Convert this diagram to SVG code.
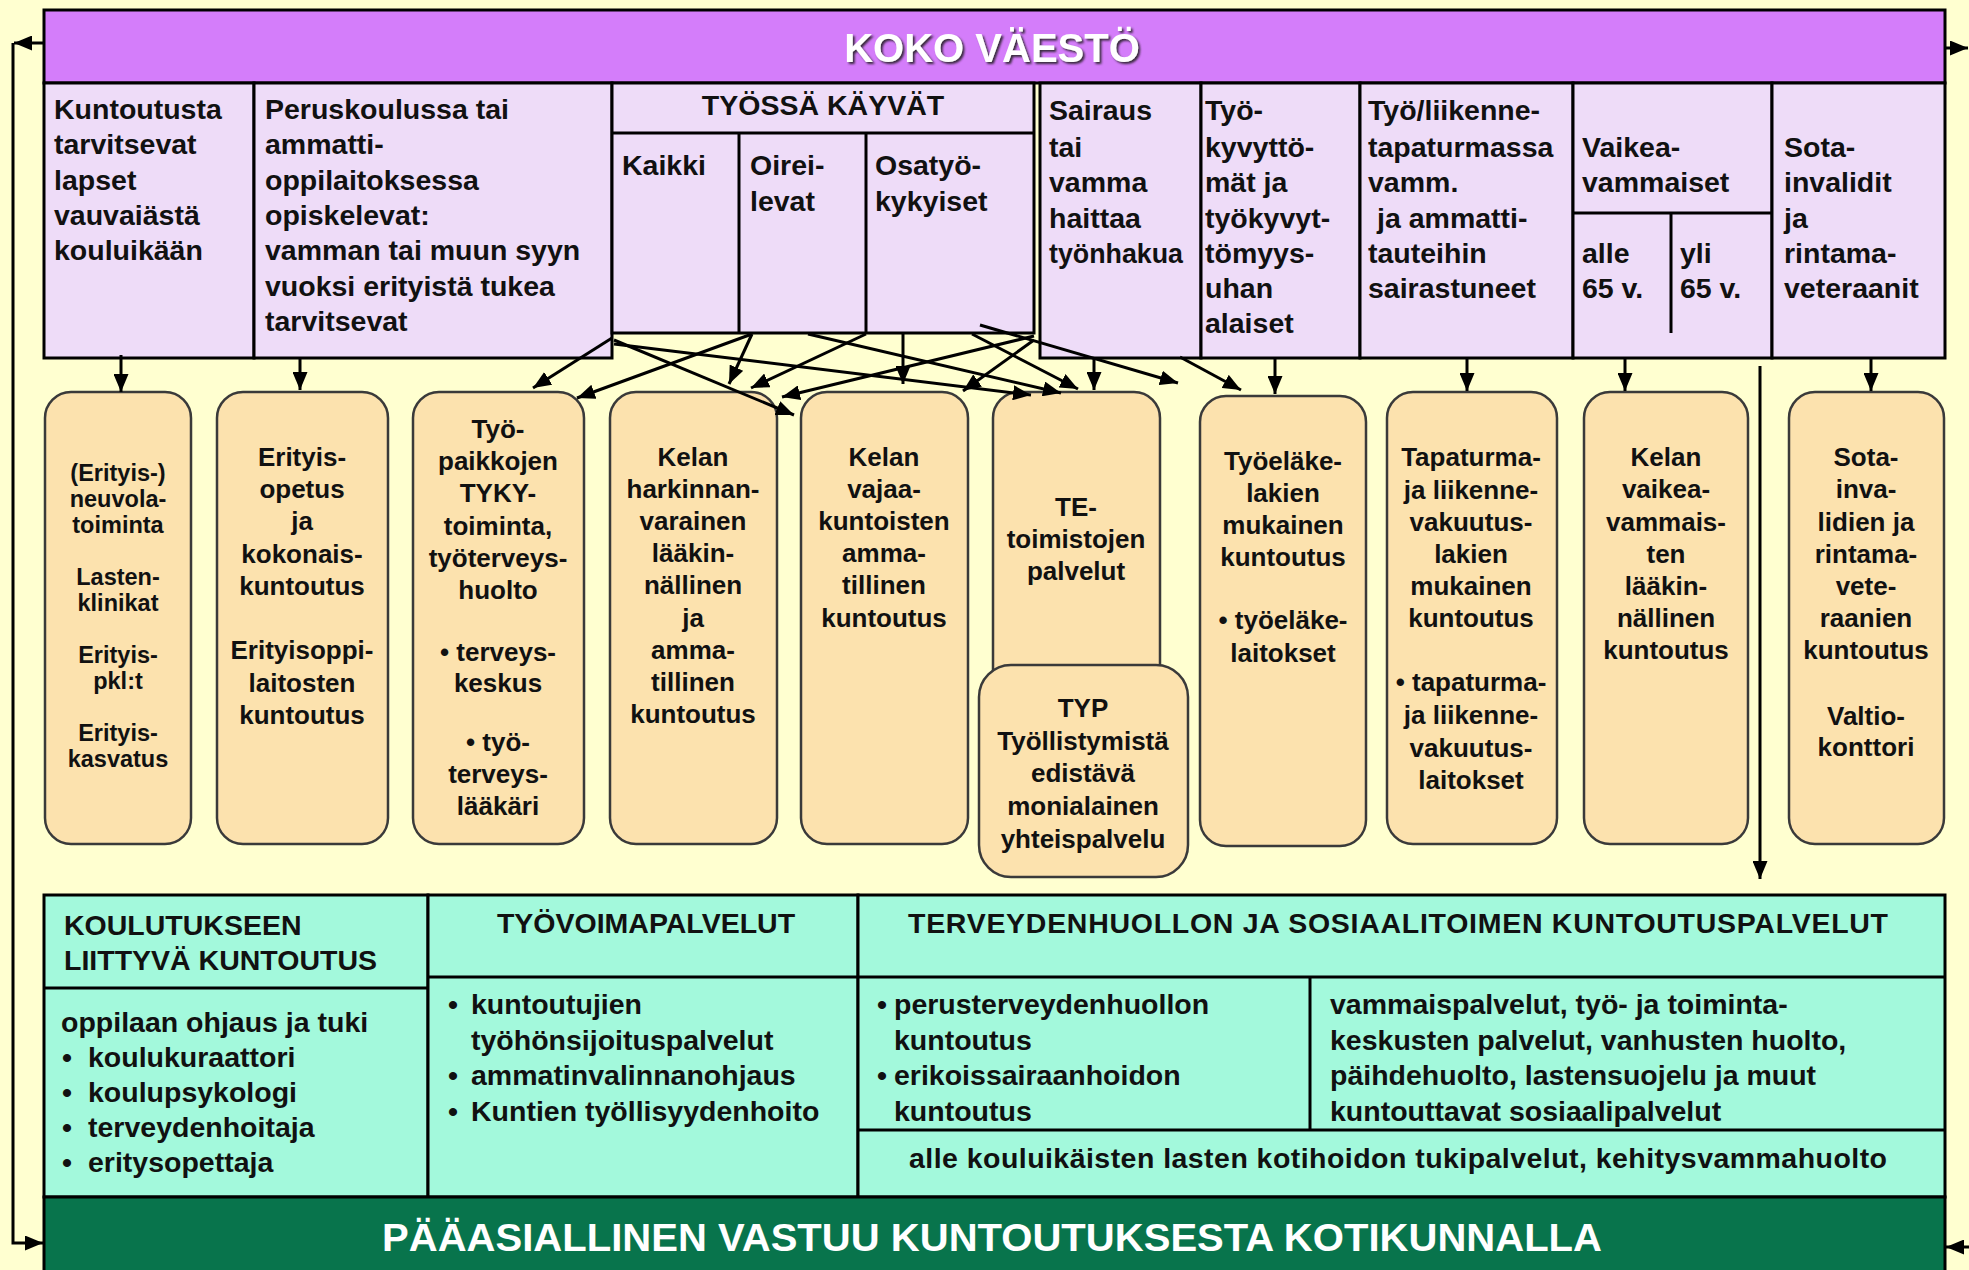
<svg xmlns="http://www.w3.org/2000/svg" width="1969" height="1270" viewBox="0 0 1969 1270">
<style>
text{font-family:"Liberation Sans",Arial,sans-serif;font-weight:bold;fill:#111}
.t{font-size:28.5px}
.m{font-size:26px;text-anchor:middle}
.m1{font-size:23.5px;text-anchor:middle}
.b{font-size:28.5px}
.hc{font-size:28.5px;text-anchor:middle}
.top{fill:#EEDCF8;stroke:#000;stroke-width:3}
.mid{fill:#FCE2AE;stroke:#3a3a3a;stroke-width:2.5}
.teal{fill:#A3F9DC;stroke:#000;stroke-width:3}
.ln{stroke:#000;stroke-width:3;fill:none}
.c{stroke:#000;stroke-width:3;fill:none;marker-end:url(#ah)}
</style>
<defs>
<marker id="ah" viewBox="0 0 10 10" refX="10" refY="5" markerWidth="18" markerHeight="15" markerUnits="userSpaceOnUse" orient="auto" preserveAspectRatio="none"><path d="M0,0 L10,5 L0,10 z" fill="#000"/></marker>
<filter id="sh" x="-5%" y="-20%" width="110%" height="140%"><feDropShadow dx="2" dy="2" stdDeviation="1" flood-color="#3a2a40"/></filter>
</defs>
<rect x="0" y="0" width="1969" height="1270" fill="#FFFFD0"/>

<!-- top title -->
<g id="koko-vaesto">
<rect x="44" y="10" width="1901" height="73" fill="#D47DFA" stroke="#000" stroke-width="3"/>
<text x="992" y="62" text-anchor="middle" style="font-size:40px;fill:#fff" filter="url(#sh)">KOKO VÄESTÖ</text>
</g>

<!-- top row groups -->
<g id="g-lapset">
<rect class="top" x="44" y="83" width="210" height="275"/>
<text class="t" x="54" y="119">Kuntoutusta</text>
<text class="t" x="54" y="154">tarvitsevat</text>
<text class="t" x="54" y="190">lapset</text>
<text class="t" x="54" y="225">vauvaiästä</text>
<text class="t" x="54" y="260">kouluikään</text>
</g>
<g id="g-opiskelevat">
<rect class="top" x="254" y="83" width="358" height="275"/>
<text class="t" x="265" y="119">Peruskoulussa tai</text>
<text class="t" x="265" y="154">ammatti-</text>
<text class="t" x="265" y="190">oppilaitoksessa</text>
<text class="t" x="265" y="225">opiskelevat:</text>
<text class="t" x="265" y="260">vamman tai muun syyn</text>
<text class="t" x="265" y="296">vuoksi erityistä tukea</text>
<text class="t" x="265" y="331">tarvitsevat</text>
</g>
<g id="g-tyossa">
<rect class="top" x="612" y="83" width="422" height="250"/>
<line class="ln" x1="612" y1="133" x2="1034" y2="133"/>
<line class="ln" x1="739" y1="133" x2="739" y2="333"/>
<line class="ln" x1="866" y1="133" x2="866" y2="333"/>
<text class="t" x="823" y="115" text-anchor="middle">TYÖSSÄ KÄYVÄT</text>
<text class="t" x="622" y="175">Kaikki</text>
<text class="t" x="750" y="175">Oirei-</text>
<text class="t" x="750" y="211">levat</text>
<text class="t" x="875" y="175">Osatyö-</text>
<text class="t" x="875" y="211">kykyiset</text>
</g>
<g id="g-sairaus">
<rect class="top" x="1040" y="83" width="161" height="275"/>
<text class="t" x="1049" y="120">Sairaus</text>
<text class="t" x="1049" y="157">tai</text>
<text class="t" x="1049" y="192">vamma</text>
<text class="t" x="1049" y="228">haittaa</text>
<text class="t" x="1049" y="263" textLength="134" lengthAdjust="spacingAndGlyphs">työnhakua</text>
</g>
<g id="g-tyokyvyttomat">
<rect class="top" x="1201" y="83" width="159" height="275"/>
<text class="t" x="1205" y="120">Työ-</text>
<text class="t" x="1205" y="157">kyvyttö-</text>
<text class="t" x="1205" y="192">mät ja</text>
<text class="t" x="1205" y="228">työkyvyt-</text>
<text class="t" x="1205" y="263">tömyys-</text>
<text class="t" x="1205" y="298">uhan</text>
<text class="t" x="1205" y="333">alaiset</text>
</g>
<g id="g-tapaturma">
<rect class="top" x="1360" y="83" width="213" height="275"/>
<text class="t" x="1368" y="120">Työ/liikenne-</text>
<text class="t" x="1368" y="157">tapaturmassa</text>
<text class="t" x="1368" y="192">vamm.</text>
<text class="t" x="1377" y="228">ja ammatti-</text>
<text class="t" x="1368" y="263">tauteihin</text>
<text class="t" x="1368" y="298">sairastuneet</text>
</g>
<g id="g-vaikeavammaiset">
<rect class="top" x="1573" y="83" width="199" height="275"/>
<line class="ln" x1="1573" y1="213" x2="1772" y2="213"/>
<line class="ln" x1="1671" y1="213" x2="1671" y2="333"/>
<text class="t" x="1582" y="157">Vaikea-</text>
<text class="t" x="1582" y="192">vammaiset</text>
<text class="t" x="1582" y="263">alle</text>
<text class="t" x="1582" y="298">65 v.</text>
<text class="t" x="1680" y="263">yli</text>
<text class="t" x="1680" y="298">65 v.</text>
</g>
<g id="g-sotainvalidit">
<rect class="top" x="1772" y="83" width="173" height="275"/>
<text class="t" x="1784" y="157">Sota-</text>
<text class="t" x="1784" y="192">invalidit</text>
<text class="t" x="1784" y="228">ja</text>
<text class="t" x="1784" y="263">rintama-</text>
<text class="t" x="1784" y="298">veteraanit</text>
</g>

<!-- middle service boxes -->
<g id="s-neuvola">
<rect class="mid" x="45" y="392" width="146" height="452" rx="26"/>
<text class="m1" x="118" y="481">(Erityis-)</text>
<text class="m1" x="118" y="507">neuvola-</text>
<text class="m1" x="118" y="533">toiminta</text>
<text class="m1" x="118" y="585">Lasten-</text>
<text class="m1" x="118" y="611">klinikat</text>
<text class="m1" x="118" y="663">Erityis-</text>
<text class="m1" x="118" y="689">pkl:t</text>
<text class="m1" x="118" y="741">Erityis-</text>
<text class="m1" x="118" y="767">kasvatus</text>
</g>
<g id="s-erityisopetus">
<rect class="mid" x="217" y="392" width="171" height="452" rx="26"/>
<text class="m" x="302" y="466">Erityis-</text>
<text class="m" x="302" y="498">opetus</text>
<text class="m" x="302" y="530">ja</text>
<text class="m" x="302" y="563">kokonais-</text>
<text class="m" x="302" y="595">kuntoutus</text>
<text class="m" x="302" y="659">Erityisoppi-</text>
<text class="m" x="302" y="692">laitosten</text>
<text class="m" x="302" y="724">kuntoutus</text>
</g>
<g id="s-tyky">
<rect class="mid" x="413" y="392" width="171" height="452" rx="26"/>
<text class="m" x="498" y="438">Työ-</text>
<text class="m" x="498" y="470">paikkojen</text>
<text class="m" x="498" y="502">TYKY-</text>
<text class="m" x="498" y="535">toiminta,</text>
<text class="m" x="498" y="567">työterveys-</text>
<text class="m" x="498" y="599">huolto</text>
<text class="m" x="498" y="661">• terveys-</text>
<text class="m" x="498" y="692">keskus</text>
<text class="m" x="498" y="751">• työ-</text>
<text class="m" x="498" y="783">terveys-</text>
<text class="m" x="498" y="815">lääkäri</text>
</g>
<g id="s-kela-harkinnan">
<rect class="mid" x="610" y="392" width="167" height="452" rx="26"/>
<text class="m" x="693" y="466">Kelan</text>
<text class="m" x="693" y="498">harkinnan-</text>
<text class="m" x="693" y="530">varainen</text>
<text class="m" x="693" y="562">lääkin-</text>
<text class="m" x="693" y="594">nällinen</text>
<text class="m" x="693" y="627">ja</text>
<text class="m" x="693" y="659">amma-</text>
<text class="m" x="693" y="691">tillinen</text>
<text class="m" x="693" y="723">kuntoutus</text>
</g>
<g id="s-kela-vajaakuntoiset">
<rect class="mid" x="801" y="392" width="167" height="452" rx="26"/>
<text class="m" x="884" y="466">Kelan</text>
<text class="m" x="884" y="498">vajaa-</text>
<text class="m" x="884" y="530">kuntoisten</text>
<text class="m" x="884" y="562">amma-</text>
<text class="m" x="884" y="594">tillinen</text>
<text class="m" x="884" y="627">kuntoutus</text>
</g>
<g id="s-te">
<rect class="mid" x="993" y="392" width="167" height="320" rx="26"/>
<text class="m" x="1076" y="516">TE-</text>
<text class="m" x="1076" y="548">toimistojen</text>
<text class="m" x="1076" y="580">palvelut</text>
</g>
<g id="s-typ">
<rect class="mid" x="979" y="665" width="209" height="212" rx="32"/>
<text class="m" x="1083" y="717">TYP</text>
<text class="m" x="1083" y="750">Työllistymistä</text>
<text class="m" x="1083" y="782">edistävä</text>
<text class="m" x="1083" y="815">monialainen</text>
<text class="m" x="1083" y="848">yhteispalvelu</text>
</g>
<g id="s-tyoelake">
<rect class="mid" x="1200" y="396" width="166" height="450" rx="26"/>
<text class="m" x="1283" y="470">Työeläke-</text>
<text class="m" x="1283" y="502">lakien</text>
<text class="m" x="1283" y="534">mukainen</text>
<text class="m" x="1283" y="566">kuntoutus</text>
<text class="m" x="1283" y="629">• työeläke-</text>
<text class="m" x="1283" y="662">laitokset</text>
</g>
<g id="s-tapaturma">
<rect class="mid" x="1387" y="392" width="170" height="452" rx="26"/>
<text class="m" x="1471" y="466">Tapaturma-</text>
<text class="m" x="1471" y="499">ja liikenne-</text>
<text class="m" x="1471" y="531">vakuutus-</text>
<text class="m" x="1471" y="563">lakien</text>
<text class="m" x="1471" y="595">mukainen</text>
<text class="m" x="1471" y="627">kuntoutus</text>
<text class="m" x="1471" y="691">• tapaturma-</text>
<text class="m" x="1471" y="724">ja liikenne-</text>
<text class="m" x="1471" y="757">vakuutus-</text>
<text class="m" x="1471" y="789">laitokset</text>
</g>
<g id="s-kela-vaikeavammaiset">
<rect class="mid" x="1584" y="392" width="164" height="452" rx="26"/>
<text class="m" x="1666" y="466">Kelan</text>
<text class="m" x="1666" y="498">vaikea-</text>
<text class="m" x="1666" y="531">vammais-</text>
<text class="m" x="1666" y="563">ten</text>
<text class="m" x="1666" y="595">lääkin-</text>
<text class="m" x="1666" y="627">nällinen</text>
<text class="m" x="1666" y="659">kuntoutus</text>
</g>
<g id="s-sotainvalidit">
<rect class="mid" x="1789" y="392" width="155" height="452" rx="26"/>
<text class="m" x="1866" y="466">Sota-</text>
<text class="m" x="1866" y="498">inva-</text>
<text class="m" x="1866" y="531">lidien ja</text>
<text class="m" x="1866" y="563">rintama-</text>
<text class="m" x="1866" y="595">vete-</text>
<text class="m" x="1866" y="627">raanien</text>
<text class="m" x="1866" y="659">kuntoutus</text>
<text class="m" x="1866" y="725">Valtio-</text>
<text class="m" x="1866" y="756">konttori</text>
</g>

<!-- bottom municipal services -->
<g id="b-koulutus">
<rect class="teal" x="44" y="895" width="384" height="302"/>
<line class="ln" x1="44" y1="988" x2="428" y2="988"/>
<text class="b" x="64" y="935">KOULUTUKSEEN</text>
<text class="b" x="64" y="970">LIITTYVÄ KUNTOUTUS</text>
<text class="b" x="61" y="1032">oppilaan ohjaus ja tuki</text>
<text class="b" x="62" y="1067">•</text><text class="b" x="88" y="1067">koulukuraattori</text>
<text class="b" x="62" y="1102">•</text><text class="b" x="88" y="1102">koulupsykologi</text>
<text class="b" x="62" y="1137">•</text><text class="b" x="88" y="1137">terveydenhoitaja</text>
<text class="b" x="62" y="1172">•</text><text class="b" x="88" y="1172">eritysopettaja</text>
</g>
<g id="b-tyovoima">
<rect class="teal" x="428" y="895" width="430" height="302"/>
<line class="ln" x1="428" y1="977" x2="858" y2="977"/>
<text class="hc" x="646" y="933">TYÖVOIMAPALVELUT</text>
<text class="b" x="448" y="1014">•</text><text class="b" x="471" y="1014">kuntoutujien</text>
<text class="b" x="471" y="1050">työhönsijoituspalvelut</text>
<text class="b" x="448" y="1085">•</text><text class="b" x="471" y="1085">ammatinvalinnanohjaus</text>
<text class="b" x="448" y="1121">•</text><text class="b" x="471" y="1121">Kuntien työllisyydenhoito</text>
</g>
<g id="b-terveys-sosiaali">
<rect class="teal" x="858" y="895" width="1087" height="302"/>
<line class="ln" x1="858" y1="977" x2="1945" y2="977"/>
<line class="ln" x1="1310" y1="977" x2="1310" y2="1130"/>
<line class="ln" x1="858" y1="1130" x2="1945" y2="1130"/>
<text class="hc" x="1398" y="933" textLength="980" lengthAdjust="spacing">TERVEYDENHUOLLON JA SOSIAALITOIMEN KUNTOUTUSPALVELUT</text>
<text class="b" x="877" y="1014">•</text><text class="b" x="894" y="1014">perusterveydenhuollon</text>
<text class="b" x="894" y="1050">kuntoutus</text>
<text class="b" x="877" y="1085">•</text><text class="b" x="894" y="1085">erikoissairaanhoidon</text>
<text class="b" x="894" y="1121">kuntoutus</text>
<text class="b" x="1330" y="1014">vammaispalvelut, työ- ja toiminta-</text>
<text class="b" x="1330" y="1050">keskusten palvelut, vanhusten huolto,</text>
<text class="b" x="1330" y="1085">päihdehuolto, lastensuojelu ja muut</text>
<text class="b" x="1330" y="1121">kuntouttavat sosiaalipalvelut</text>
<text class="hc" x="1398" y="1168" textLength="978" lengthAdjust="spacing">alle kouluikäisten lasten kotihoidon tukipalvelut, kehitysvammahuolto</text>
</g>
<g id="kotikunta">
<rect x="44" y="1197" width="1901" height="80" fill="#08744C" stroke="#000" stroke-width="3"/>
<text x="992" y="1251" text-anchor="middle" textLength="1220" lengthAdjust="spacingAndGlyphs" style="font-size:38px;fill:#fff">PÄÄASIALLINEN VASTUU KUNTOUTUKSESTA KOTIKUNNALLA</text>
</g>

<!-- connectors -->
<g id="connectors">
<path class="c" d="M121,355 V392"/>
<path class="c" d="M300,358 V390"/>
<path class="c" d="M1094,357 V390"/>
<path class="c" d="M1275,357 V394"/>
<path class="c" d="M1467,357 V391"/>
<path class="c" d="M1625,357 V391"/>
<path class="c" d="M1871,357 V391"/>
<path class="c" d="M1760,366 V879"/>
<path class="c" d="M612,338 L533,388"/>
<path class="c" d="M752,334 L577,398"/>
<path class="c" d="M752,334 L729,384"/>
<path class="c" d="M866,334 L751,388"/>
<path class="c" d="M1034,336 L782,397"/>
<path class="c" d="M614,340 L794,415"/>
<path class="c" d="M903,334 V384"/>
<path class="c" d="M1034,340 L963,391"/>
<path class="c" d="M614,344 L1031,395"/>
<path class="c" d="M808,334 L1061,393"/>
<path class="c" d="M972,334 L1078,389"/>
<path class="c" d="M980,325 L1178,383"/>
<path class="c" d="M1180,357 L1241,390"/>
<path class="ln" d="M44,43 H30"/>
<path class="c" d="M30,43 H14"/>
<path class="ln" d="M13,43 V1243 H30"/>
<path class="c" d="M28,1243 H43"/>
<path class="c" d="M1945,48 H1968"/>
<path class="c" d="M1969,1247 H1946"/>
</g>
</svg>
